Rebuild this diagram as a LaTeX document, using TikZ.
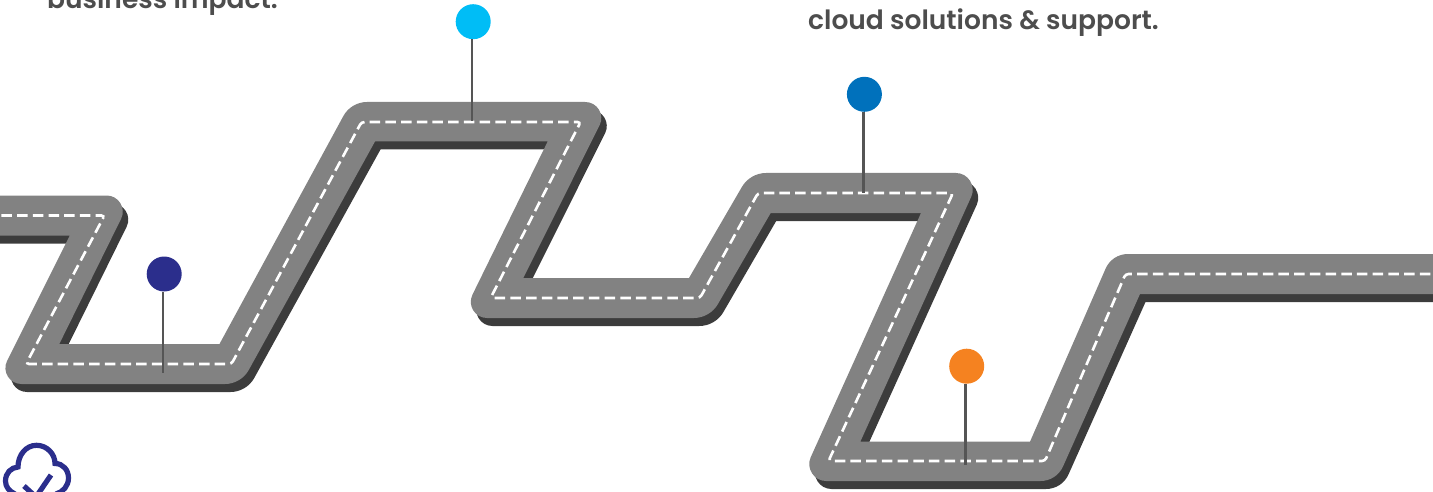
\documentclass[tikz,border=0pt]{standalone}
\usepackage{fontspec}
\usetikzlibrary{calc}
\setmainfont{Poppins SemiBold}
\definecolor{roadgrey}{HTML}{828282}
\definecolor{roadshade}{HTML}{3C3C3C}
\definecolor{stemgrey}{HTML}{555555}
\definecolor{textgrey}{HTML}{4D4D4D}
\definecolor{pinnavy}{HTML}{2B2E8C}
\definecolor{pincyan}{HTML}{00BDF6}
\definecolor{pinblue}{HTML}{0071BC}
\definecolor{pinorange}{HTML}{F58220}
\tikzset{
  x=1pt,y=-1pt,
  roaddash/.style={draw=white,line width=2.6pt,dash pattern=on 10.5pt off 5.2pt,rounded corners=3pt},
  pinhead/.style={circle,inner sep=0pt,minimum size=35pt,draw=none},
  pinstem/.style={draw=stemgrey,line width=2.6pt},
  caption/.style={inner sep=0pt,anchor=base west,text=textgrey,font=\fontsize{26.5}{32}\selectfont},
  cloudline/.style={draw=pinnavy,line width=5.2pt,line cap=butt}
}
\newcommand{\rc}[3]{-- ($(#1)!26pt!(#2)$) .. controls ($(#1)!14pt!(#2)$) and ($(#1)!14pt!(#3)$) .. ($(#1)!26pt!(#3)$)}
\newcommand{\ro}[3]{-- ($(#1)!16pt!(#2)$) .. controls ($(#1)!6.2pt!(#2)$) and ($(#1)!6.2pt!(#3)$) .. ($(#1)!16pt!(#3)$)}
\newcommand{\roadoutline}{(u0) \rc{u1}{u0}{u2} -- (u2) -- (u3) \ro{u4}{u3}{u5} \rc{u5}{u4}{u6} -- (u6) -- (u7) \ro{u8}{u7}{u9} \rc{u9}{u8}{u10} -- (u10) -- (u11) \ro{u12}{u11}{u13} -- (u13) -- (l0) -- (l1) \ro{l2}{l1}{l3} \rc{l3}{l2}{l4} -- (l4) -- (l5) \ro{l6}{l5}{l7} \rc{l7}{l6}{l8} -- (l8) -- (l9) \ro{l10}{l9}{l11} \rc{l11}{l10}{l12} -- (l12) -- (l13) -- cycle}
\begin{document}
\begin{tikzpicture}
\clip (0,0) rectangle (1433,492);
\coordinate (u0) at (-30,195.5);
\coordinate (u1) at (132.6,195.5);
\coordinate (u2) at (59.3,344);
\coordinate (u3) at (219.5,344);
\coordinate (u4) at (351,102);
\coordinate (u5) at (611.2,102);
\coordinate (u6) at (523.3,278);
\coordinate (u7) at (689,278);
\coordinate (u8) at (750,173);
\coordinate (u9) at (982,173);
\coordinate (u10) at (860.3,441.7);
\coordinate (u11) at (1030,441.7);
\coordinate (u12) at (1112,254);
\coordinate (u13) at (1463,254);
\coordinate (l0) at (1463,294);
\coordinate (l1) at (1140,294);
\coordinate (l2) at (1056.5,481);
\coordinate (l3) at (800,481);
\coordinate (l4) at (921,213);
\coordinate (l5) at (770.7,213);
\coordinate (l6) at (709.8,318);
\coordinate (l7) at (461,318);
\coordinate (l8) at (547.7,141.5);
\coordinate (l9) at (375,141.5);
\coordinate (l10) at (241,384);
\coordinate (l11) at (-4.5,384);
\coordinate (l12) at (69.7,235.7);
\coordinate (l13) at (-30,235.7);
\coordinate (r0) at (-30,215.5);
\coordinate (r1) at (104.5,215.5);
\coordinate (r2) at (26,364);
\coordinate (r3) at (231.5,364);
\coordinate (r4) at (361.5,122);
\coordinate (r5) at (580.6,122);
\coordinate (r6) at (490.6,298);
\coordinate (r7) at (700,298);
\coordinate (r8) at (758,193);
\coordinate (r9) at (953,193);
\coordinate (r10) at (828.5,461);
\coordinate (r11) at (1045,461);
\coordinate (r12) at (1125.5,274);
\coordinate (r13) at (1463,274);
\begin{scope}[transform canvas={xshift=5.5pt,yshift=-8pt}]
\fill[roadshade] \roadoutline;
\end{scope}
\fill[roadgrey] \roadoutline;
\draw[roaddash] (r0)--(r1)--(r2)--(r3)--(r4)--(r5)--(r6)--(r7)--(r8)--(r9)--(r10)--(r11)--(r12)--(r13);

\node[pinhead,fill=pinnavy] (p1) at (164.2,274) {};
\coordinate (f1) at (162.8,372.7);
\draw[pinstem] (p1.south -| f1) -- (f1);
\node[pinhead,fill=pincyan] (p2) at (473.2,21.7) {};
\coordinate (f2) at (472,121);
\draw[pinstem] (p2.south -| f2) -- (f2);
\node[pinhead,fill=pinblue] (p3) at (864.4,94.3) {};
\coordinate (f3) at (863.3,193);
\draw[pinstem] (p3.south -| f3) -- (f3);
\node[pinhead,fill=pinorange] (p4) at (966.7,366.2) {};
\coordinate (f4) at (965.7,465);
\draw[pinstem] (p4.south -| f4) -- (f4);

\node[caption] (t1) at (47,9) {business impact.};
\node[caption] (t2) at (808,29.5) {cloud solutions \& support.};

\draw[cloudline] (15,494) .. controls (9,491) and (5.5,487) .. (5.5,481)
  .. controls (5.5,473) and (11,467.5) .. (18,467)
  .. controls (18,455) and (26,445.3) .. (36.5,445.3)
  .. controls (47,445.3) and (55,454) .. (55,463.5)
  .. controls (63,463.5) and (68.5,470) .. (68.5,478)
  .. controls (68.5,486) and (63,492) .. (56,494);
\draw[cloudline] (24,486) -- (36,497) -- (51,475);
\end{tikzpicture}
\end{document}
